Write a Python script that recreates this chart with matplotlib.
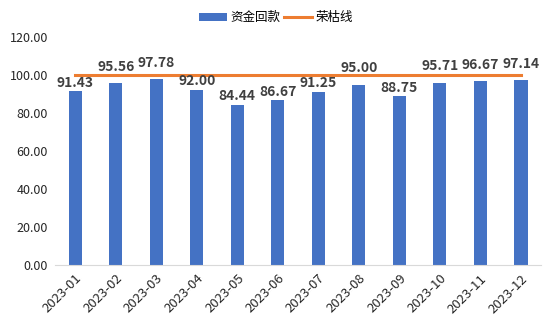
import matplotlib.pyplot as plt
import numpy as np

plt.rcParams['font.family'] = ['Noto Sans CJK SC', 'DejaVu Sans']

months = ['2023-01', '2023-02', '2023-03', '2023-04', '2023-05', '2023-06',
          '2023-07', '2023-08', '2023-09', '2023-10', '2023-11', '2023-12']
recovery = [91.43, 95.56, 97.78, 92.00, 84.44, 86.67,
            91.25, 95.00, 88.75, 95.71, 96.67, 97.14]
boom_line = [100] * 12

fig = plt.figure(figsize=(5.51, 3.26), dpi=100)
ax = fig.add_axes([0.0998, 0.187, 0.8822, 0.6995])

x = np.arange(len(months))
bars = ax.bar(x, recovery, width=0.33, color='#4472C4', label='资金回款', zorder=2)
line, = ax.plot(x, boom_line, color='#ED7D31', linewidth=2.2, label='荣枯线', zorder=3)

# labels for tall bars are lifted over the 100 line
for xi, v in zip(x, recovery):
    off = 8.8 if v > 93 else 4.6
    ax.text(xi, v + off, f'{v:.2f}', ha='center', va='center',
            fontsize=10, fontweight='bold', color='#404040', zorder=4)

ax.set_xlim(-0.5, len(months) - 0.5)
ax.set_ylim(0, 120)
ax.set_yticks(np.arange(0, 121, 20))
ax.set_yticklabels([f'{t:.2f}' for t in np.arange(0, 121, 20)], fontsize=9, color='#262626')
ax.set_xticks(x)
ax.set_xticklabels(months, rotation=45, ha='right', rotation_mode='anchor',
                   fontsize=9.5, color='#262626')

for side in ['top', 'right', 'left']:
    ax.spines[side].set_visible(False)
ax.spines['bottom'].set_color('#D9D9D9')
ax.tick_params(axis='both', length=0, pad=5)

fig.legend([bars, line], ['资金回款', '荣枯线'], loc='center', bbox_to_anchor=(0.501, 0.945),
           ncol=2, frameon=False, fontsize=9, handlelength=2.2, columnspacing=0.3,
           handletextpad=0.3)

fig.savefig('out.png', dpi=100)
